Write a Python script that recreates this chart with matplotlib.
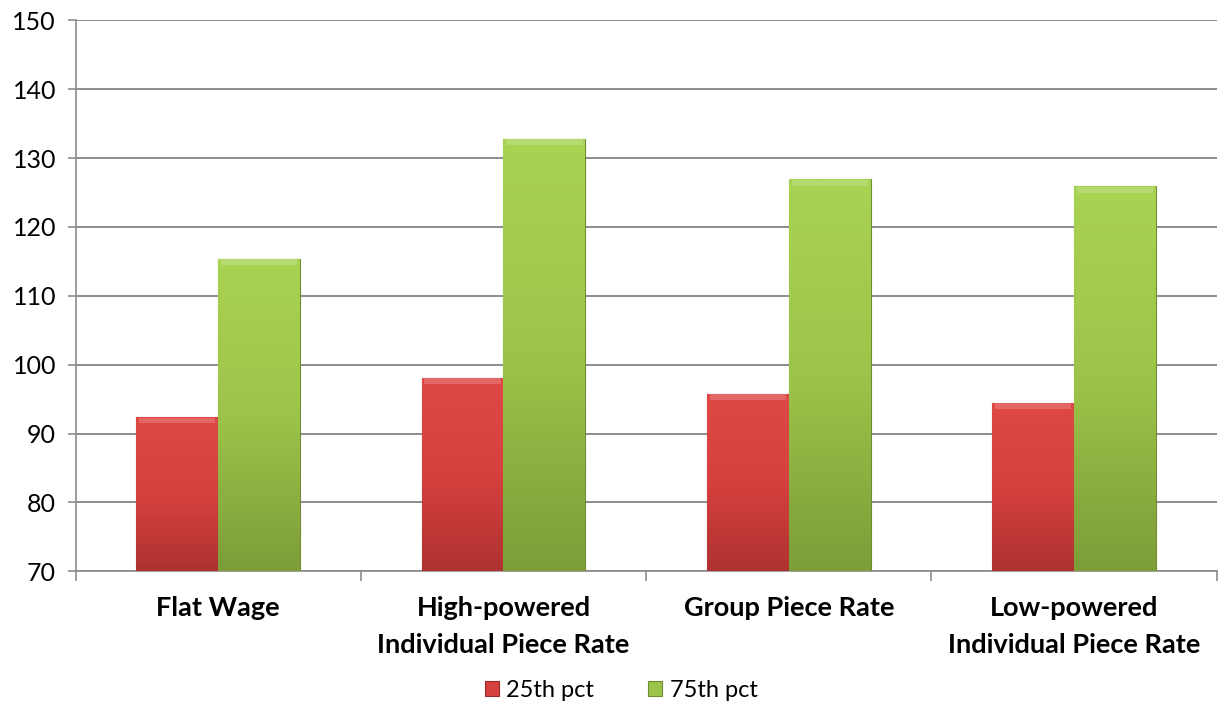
import matplotlib
matplotlib.use("Agg")
import matplotlib.pyplot as plt
import numpy as np
from matplotlib.colors import LinearSegmentedColormap

categories = ["Flat Wage", "High-powered\nIndividual Piece Rate", "Group Piece Rate",
              "Low-powered\nIndividual Piece Rate"]
p25 = [92.4, 98.1, 95.8, 94.5]
p75 = [115.4, 132.8, 126.9, 125.9]
series_names = ["25th pct", "75th pct"]
yticks = [70, 80, 90, 100, 110, 120, 130, 140, 150]

plt.rcParams['font.family'] = ['Lato', 'DejaVu Sans']

fig = plt.figure(figsize=(12.18, 7.01), dpi=100)
ax = fig.add_axes([0.062, 0.185, 0.937, 0.786])

x = np.arange(len(categories))
w = 0.287
red_cmap = LinearSegmentedColormap.from_list("r", ["#DE4845", "#D6403E", "#AE3230"])
green_cmap = LinearSegmentedColormap.from_list("g", ["#A9D352", "#9DC44A", "#7C9D38"])

ax.set_ylim(70, 150)
ax.set_xlim(-0.5, len(categories) - 0.5)

b1 = ax.bar(x - w / 2, np.array(p25) - 70, w, bottom=70, color="#D6403E",
            edgecolor="#9A2B2A", linewidth=0.8, zorder=3, label=series_names[0])
b2 = ax.bar(x + w / 2, np.array(p75) - 70, w, bottom=70, color="#9DC44A",
            edgecolor="#6E8C30", linewidth=0.8, zorder=3, label=series_names[1])

grad = np.linspace(0, 1, 256).reshape(-1, 1)
for bars, cmap in ((b1, red_cmap), (b2, green_cmap)):
    for bar in bars:
        x0, y0 = bar.get_x(), bar.get_y()
        bw, bh = bar.get_width(), bar.get_height()
        im = ax.imshow(grad, cmap=cmap, aspect="auto",
                       extent=[x0, x0 + bw, y0, y0 + bh], origin="upper", zorder=3.5)
        im.set_clip_path(bar)
        ax.add_patch(plt.Rectangle((x0 + 0.01, y0 + bh - 0.9), bw - 0.02, 0.8,
                                   color="white", alpha=0.18, zorder=4, linewidth=0))

ax.set_xlim(-0.5, len(categories) - 0.5)
ax.set_ylim(70, 150)

ax.set_yticks(yticks)
ax.set_yticklabels([str(v) for v in yticks], fontsize=18)
ax.yaxis.grid(True, color="#8C8C8C", linewidth=1.4, zorder=0)
ax.set_axisbelow(True)

ax.set_xticks(x)
ax.set_xticklabels(categories, fontsize=19.5, fontweight="bold", linespacing=1.65)
ax.tick_params(axis="x", length=0, pad=18)
ax.set_xticks(np.arange(-0.5, len(categories) + 0.5, 1), minor=True)
ax.tick_params(axis="x", which="minor", length=7, color="#8C8C8C", width=1.2)
ax.tick_params(axis="y", length=6, color="#8C8C8C", width=1.2, pad=8)

for s in ("top", "right"):
    ax.spines[s].set_visible(False)
for s in ("left", "bottom"):
    ax.spines[s].set_color("#8C8C8C")
    ax.spines[s].set_linewidth(1.2)

leg = fig.legend(handles=[b1, b2], labels=series_names, loc="lower center",
                 bbox_to_anchor=(0.51, -0.03), ncol=2, frameon=False, fontsize=17,
                 handlelength=0.6, handleheight=0.6, handletextpad=0.3, columnspacing=2.3)

fig.savefig("out.png", dpi=100)
